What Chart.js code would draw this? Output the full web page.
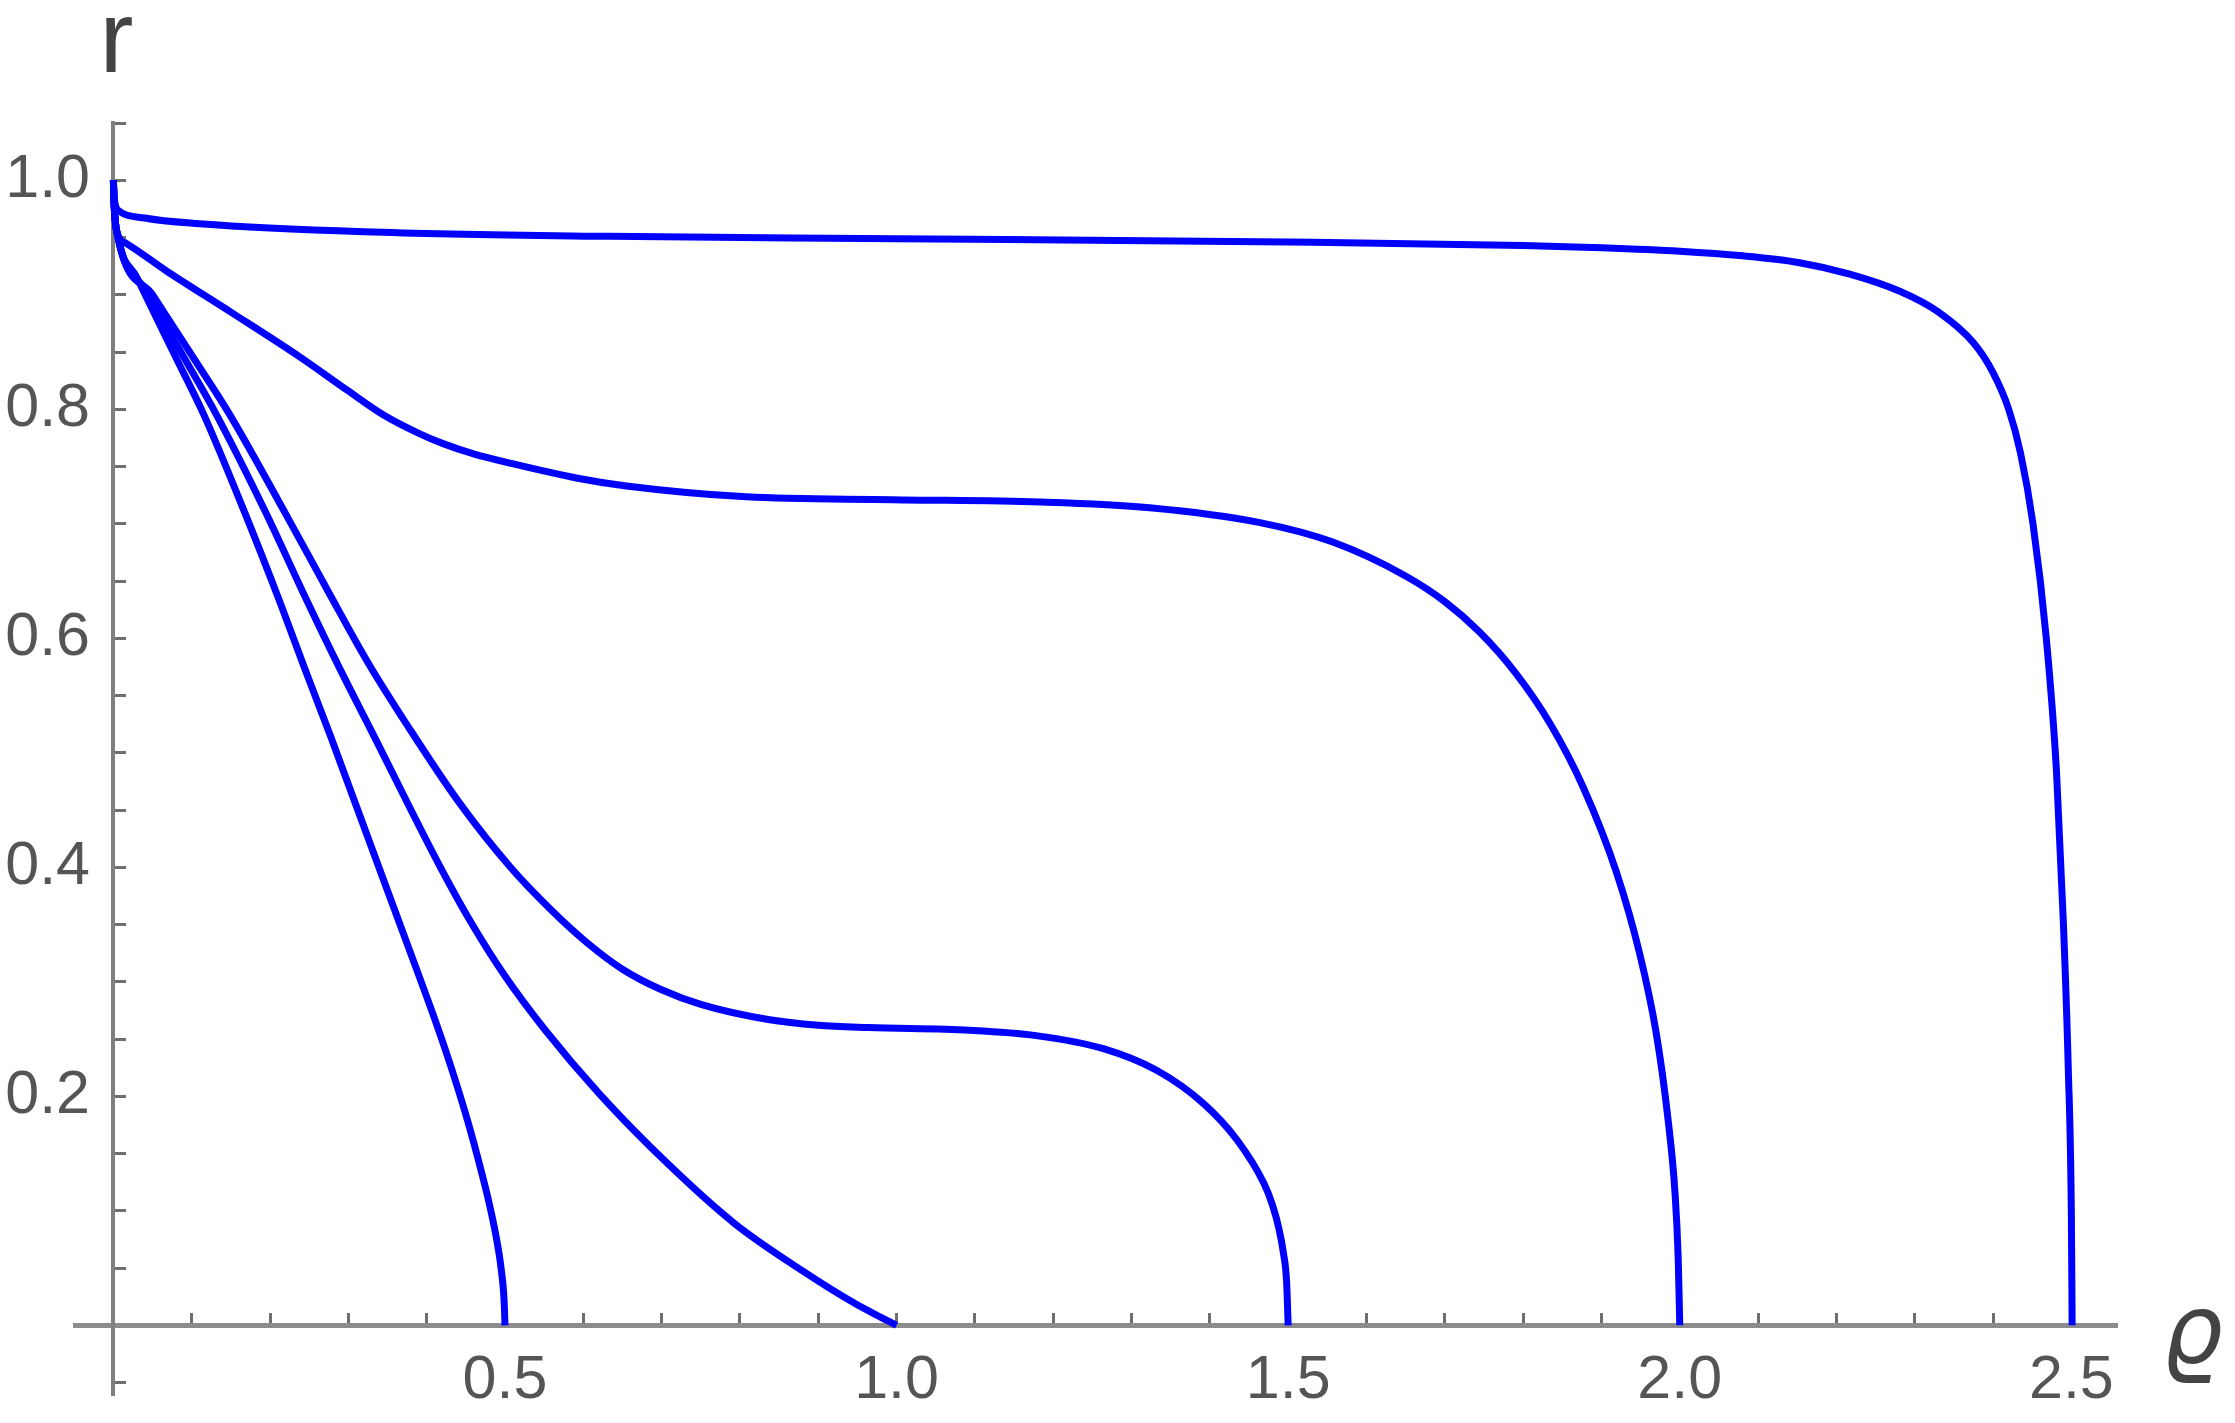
<!DOCTYPE html>
<html>
<head>
<meta charset="utf-8">
<style>
  html, body { margin: 0; padding: 0; background: #ffffff; }
  canvas { display: block; }
</style>
<script src="https://cdn.jsdelivr.net/npm/chart.js@4.4.1/dist/chart.umd.min.js"></script>
</head>
<body>
<canvas id="c" width="2235" height="1423"></canvas>
<script>
// ---- tick labels ----
const xTickLabels = ['0.5', '1.0', '1.5', '2.0', '2.5'];
const yTickLabels = ['0.2', '0.4', '0.6', '0.8', '1.0'];
const xAxisTitle = 'ϱ';
const yAxisTitle = 'r';

// ---- curve 1 (ends at ϱ = 0.5) ----
const rho1 = [0, 0.001, 0.006, 0.03, 0.08, 0.115, 0.167, 0.213, 0.243, 0.277, 0.339, 0.386, 0.41, 0.43, 0.45, 0.465, 0.478, 0.488, 0.495, 0.499, 0.5];
const r1   = [1.0, 0.978, 0.95, 0.915, 0.845, 0.796, 0.711, 0.631, 0.576, 0.515, 0.400, 0.313, 0.268, 0.228, 0.184, 0.147, 0.112, 0.080, 0.050, 0.020, 0];

// ---- curve 2 (ends at ϱ = 1.0) ----
const rho2 = [0, 0.001, 0.006, 0.04, 0.092, 0.131, 0.193, 0.247, 0.288, 0.331, 0.4176, 0.46, 0.50, 0.55, 0.622, 0.708, 0.793, 0.879, 0.947, 0.98, 1.0];
const r2   = [1.0, 0.978, 0.95, 0.905, 0.843, 0.796, 0.712, 0.633, 0.575, 0.517, 0.400, 0.348, 0.305, 0.259, 0.201, 0.141, 0.089, 0.048, 0.019, 0.007, 0];

// ---- curve 3 (ends at ϱ = 1.5) ----
const rho3 = [0, 0.001, 0.006, 0.05, 0.104, 0.148, 0.2205, 0.275, 0.324, 0.3772, 0.44, 0.507, 0.56, 0.605, 0.65, 0.70, 0.751, 0.836, 0.90, 0.964, 1.093, 1.178, 1.264, 1.332, 1.392, 1.435, 1.469, 1.48, 1.488, 1.494, 1.498, 1.5];
const r3   = [1.0, 0.978, 0.95, 0.90, 0.843, 0.796, 0.708, 0.640, 0.580, 0.522, 0.458, 0.400, 0.362, 0.334, 0.311, 0.293, 0.280, 0.267, 0.262, 0.260, 0.2576, 0.253, 0.2416, 0.2227, 0.1936, 0.1616, 0.124, 0.105, 0.085, 0.063, 0.038, 0];

// ---- curve 4 (ends at ϱ = 2.0) ----
const rho4 = [0, 0.001, 0.006, 0.016, 0.0673, 0.152, 0.2375, 0.30, 0.345, 0.39, 0.421, 0.46, 0.506, 0.591, 0.655, 0.808, 0.995, 1.183, 1.323, 1.464, 1.557, 1.651, 1.70, 1.745, 1.790, 1.834, 1.876, 1.919, 1.949, 1.970, 1.985, 1.994, 1.998, 2.0];
const r4   = [1.0, 0.978, 0.952, 0.945, 0.921, 0.884, 0.846, 0.816, 0.795, 0.779, 0.770, 0.761, 0.753, 0.740, 0.733, 0.7235, 0.721, 0.719, 0.714, 0.701, 0.684, 0.654, 0.632, 0.605, 0.570, 0.526, 0.471, 0.396, 0.324, 0.255, 0.180, 0.115, 0.059, 0];

// ---- curve 5 (ends at ϱ = 2.5) ----
const rho5 = [0, 0.0015, 0.0077, 0.04, 0.11, 0.32, 0.633, 1.0, 1.5, 1.8, 1.9, 2.0, 2.08, 2.153, 2.217, 2.281, 2.33, 2.375, 2.40, 2.42, 2.435, 2.451, 2.468, 2.481, 2.4896, 2.496, 2.500, 2.501];
const r5   = [1.0, 0.982, 0.973, 0.967, 0.962, 0.955, 0.951, 0.949, 0.946, 0.943, 0.941, 0.938, 0.934, 0.928, 0.918, 0.903, 0.885, 0.858, 0.832, 0.800, 0.762, 0.700, 0.600, 0.484, 0.355, 0.226, 0.097, 0];

const curves = [[rho1, r1], [rho2, r2], [rho3, r3], [rho4, r4], [rho5, r5]];

function toPoints(xs, ys) { return xs.map((x, i) => ({ x: x, y: ys[i] })); }
const near = (v, step) => Math.abs(v / step - Math.round(v / step)) < 1e-6;

const datasets = curves.map(([xs, ys]) => ({
  data: toPoints(xs, ys),
  borderColor: '#0000ff',
  borderWidth: 7,
  pointRadius: 0,
  showLine: true,
  fill: false,
  cubicInterpolationMode: 'monotone'
}));

const axisTitles = {
  id: 'axisTitles',
  afterDraw(chart) {
    const { ctx, scales: { x, y } } = chart;
    ctx.save();
    ctx.fillStyle = '#444444';
    ctx.textAlign = 'left';
    ctx.textBaseline = 'alphabetic';
    ctx.font = '102px "Liberation Sans", sans-serif';
    ctx.fillText(yAxisTitle, x.getPixelForValue(0) - 14, y.top - 51);
    ctx.font = 'italic 96px "DejaVu Sans", sans-serif';
    ctx.fillText(xAxisTitle, x.right + 46, y.getPixelForValue(0) + 38);
    ctx.restore();
  }
};

const tickFontFamily = '"Liberation Sans", Arial, sans-serif';
const tickFontSize = 61;
const tickFont = { family: tickFontFamily, size: tickFontSize };

// width of the widest y label, so the labels can be right-aligned just left of the y axis
const measureCtx = document.createElement('canvas').getContext('2d');
measureCtx.font = tickFontSize + 'px ' + tickFontFamily;
const widestY = Math.max(...yTickLabels.map(t => measureCtx.measureText(t).width));

const tickMarkColor = (c) => (c.tick && Math.abs(c.tick.value) < 1e-9) ? 'rgba(0,0,0,0)' : '#6f6f6f';

new Chart(document.getElementById('c'), {
  type: 'scatter',
  data: { datasets: datasets },
  plugins: [axisTitles],
  options: {
    responsive: false,
    animation: false,
    devicePixelRatio: 1,
    layout: { padding: { left: 75, right: 119, top: 123, bottom: 29 } },
    plugins: { legend: { display: false }, tooltip: { enabled: false } },
    scales: {
      x: {
        type: 'linear',
        min: -0.049,
        max: 2.557,
        position: { y: 0 },
        border: { display: true, color: '#8c8c8c', width: 5 },
        grid: {
          display: true, drawOnChartArea: false, drawTicks: true,
          tickLength: -15, lineWidth: 3, color: tickMarkColor
        },
        ticks: {
          stepSize: 0.1, includeBounds: false, autoSkip: false, maxRotation: 0,
          padding: 34, color: '#555555', font: tickFont,
          callback: (v) => {
            if (Math.abs(v) < 1e-9 || !near(v, 0.5)) return '';
            const lbl = v.toFixed(1);
            return xTickLabels.includes(lbl) ? lbl : '';
          }
        },
        afterFit: (s) => { s.paddingLeft = 0; s.paddingRight = 0; }
      },
      y: {
        type: 'linear',
        min: -0.060,
        max: 1.050,
        position: { x: 0 },
        border: { display: true, color: '#808080', width: 4 },
        grid: {
          display: true, drawOnChartArea: false, drawTicks: true,
          tickLength: -15, lineWidth: 3, color: tickMarkColor
        },
        ticks: { stepSize: 0.05, includeBounds: false, autoSkip: false, display: false },
        afterFit: (s) => { s.paddingTop = 0; s.paddingBottom = 0; }
      },
      yLabels: {
        type: 'linear',
        min: -0.060,
        max: 1.050,
        position: 'left',
        border: { display: false },
        grid: { display: false, drawTicks: false },
        ticks: {
          stepSize: 0.05, includeBounds: false, autoSkip: false,
          mirror: true, crossAlign: 'far',
          padding: 15 - widestY,
          color: '#555555', font: tickFont,
          callback: (v) => {
            if (Math.abs(v) < 1e-9 || !near(v, 0.2)) return '';
            const lbl = v.toFixed(1);
            return yTickLabels.includes(lbl) ? lbl : '';
          }
        },
        afterFit: (s) => { s.width = 0; s.paddingTop = 0; s.paddingBottom = 0; }
      }
    }
  }
});
</script>
</body>
</html>
